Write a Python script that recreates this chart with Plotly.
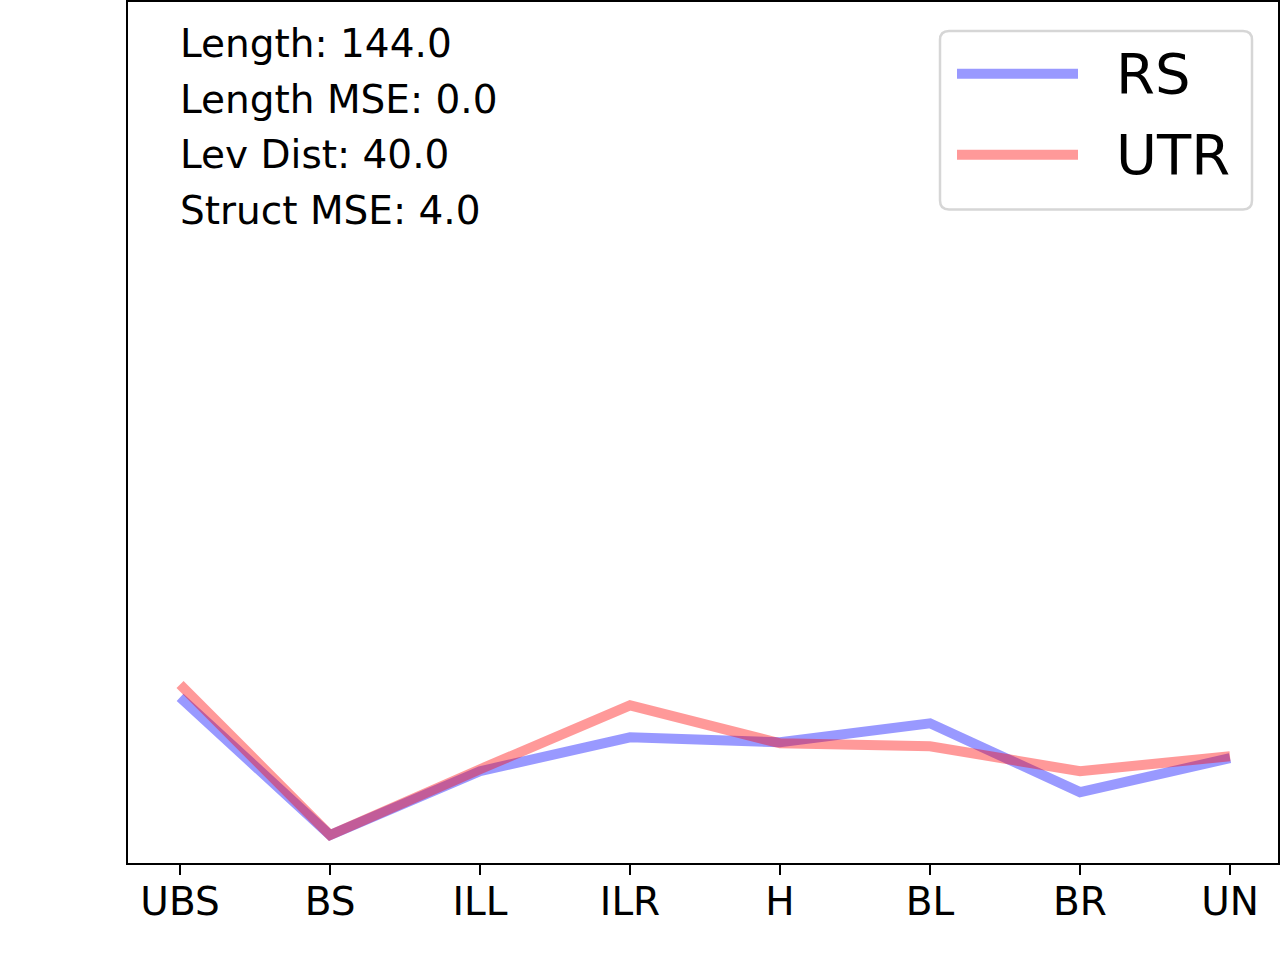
import plotly.graph_objects as go

# categories along the x axis
categories = ["UBS", "BS", "ILL", "ILR", "H", "BL", "BR", "UN"]
# series values (unitless)
rs_values = [166, 28, 92, 126, 121, 140, 71, 105]
utr_values = [179, 28, 94, 158, 120, 117, 92, 107]
series_names = ["RS", "UTR"]
stats_lines = ["Length: 144.0", "Length MSE: 0.0", "Lev Dist: 40.0", "Struct MSE: 4.0"]

W, H = 1280, 960
L, R, T, B = 128, 2, 0, 97
PW, PH = W - L - R, H - T - B

blue = "rgba(0,0,255,0.4)"
red = "rgba(255,0,0,0.4)"
font = "DejaVu Sans"


def px(x):
    # pixel x -> paper
    return (x - L) / PW


def py(y):
    # pixel y -> paper
    return 1 - (y - T) / PH


fig = go.Figure()
fig.add_trace(go.Scatter(x=categories, y=rs_values, mode="lines", name=series_names[0],
                         line=dict(color=blue, width=10)))
fig.add_trace(go.Scatter(x=categories, y=utr_values, mode="lines", name=series_names[1],
                         line=dict(color=red, width=10)))

# stats text in the top left corner
for i, txt in enumerate(stats_lines):
    fig.add_annotation(text=txt, xref="paper", yref="paper", x=px(178), y=py(42 + 55.5 * i),
                       xanchor="left", yanchor="middle", showarrow=False,
                       font=dict(family=font, size=39, color="black"))

# legend drawn by hand (matplotlib style, long line samples)
x0, x1, y0, y1, r = 940, 1252, 29, 208, 9
path = (f"M {px(x0 + r)},{py(y0)} L {px(x1 - r)},{py(y0)} "
        f"Q {px(x1)},{py(y0)} {px(x1)},{py(y0 + r)} L {px(x1)},{py(y1 - r)} "
        f"Q {px(x1)},{py(y1)} {px(x1 - r)},{py(y1)} L {px(x0 + r)},{py(y1)} "
        f"Q {px(x0)},{py(y1)} {px(x0)},{py(y1 - r)} L {px(x0)},{py(y0 + r)} "
        f"Q {px(x0)},{py(y0)} {px(x0 + r)},{py(y0)} Z")
fig.add_shape(type="path", path=path, xref="paper", yref="paper",
              line=dict(color="#d6d6d6", width=2.5), fillcolor="rgba(255,255,255,0.8)")
for name, col, ly in zip(series_names, [blue, red], [72, 153]):
    fig.add_shape(type="line", xref="paper", yref="paper", x0=px(957), x1=px(1078),
                  y0=py(ly), y1=py(ly), line=dict(color=col, width=10))
    fig.add_annotation(text=name, xref="paper", yref="paper", x=px(1114), y=py(ly),
                       xanchor="left", yanchor="middle", showarrow=False,
                       font=dict(family=font, size=56, color="black"))

fig.update_xaxes(type="category", range=[-0.347, 7.32], showline=True, mirror=True,
                 linecolor="black", linewidth=2, ticks="outside", ticklen=10, tickwidth=2,
                 tickcolor="black", showgrid=False, zeroline=False, ticklabelstandoff=-7,
                 tickfont=dict(family=font, size=39, color="black"))
fig.update_yaxes(range=[0, 863], showline=True, mirror=True, linecolor="black", linewidth=2,
                 showticklabels=False, ticks="", showgrid=False, zeroline=False)

fig.update_layout(width=W, height=H, margin=dict(l=L, r=R, t=T, b=B),
                  plot_bgcolor="white", paper_bgcolor="white", showlegend=False,
                  font=dict(family=font))

# drop the default page margin so the figure sits at the window corner
fig.write_html("out.html", config={"displayModeBar": False},
               post_script="document.body.style.margin='0';")
